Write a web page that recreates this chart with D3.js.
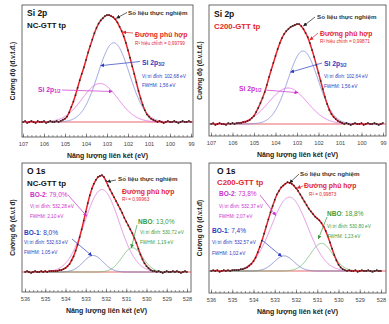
<!DOCTYPE html>
<html>
<head>
<meta charset="utf-8">
<script src="https://cdn.jsdelivr.net/npm/d3@7"></script>
<style>
  body { margin: 0; background: #fff; }
  svg { display: block; font-family: "Liberation Sans", Arial, "DejaVu Sans", sans-serif; }
</style>
</head>
<body>
<svg id="chart" width="389" height="324"></svg>
<script>
// ---- data ----
const siTicks = [107, 106, 105, 104, 103, 102, 101, 100, 99];
const oTicks = [536, 535, 534, 533, 532, 531, 530, 529, 528];

// measured intensity (normalised), one value every 0.1 eV from the high-energy end
const siNcIntensity = [
  0.00, 0.01, -0.01, 0.00, 0.01, 0.00, -0.01, 0.01, 0.00, 0.00, 0.01, -0.01, 0.00, 0.01, 0.00, 0.00, 0.01, 0.00,
  0.01, 0.02, 0.03, 0.05, 0.09, 0.14, 0.19, 0.25, 0.32, 0.39,
  0.45, 0.51, 0.58, 0.65, 0.71, 0.77, 0.83, 0.88, 0.92, 0.95,
  0.97, 0.99, 1.00, 1.00, 0.99, 0.98, 0.96, 0.93, 0.89, 0.85,
  0.80, 0.74, 0.67, 0.60, 0.52, 0.45, 0.37, 0.29, 0.22, 0.16,
  0.11, 0.07, 0.05, 0.03, 0.02, 0.01,
  0.00, 0.01, 0.00, -0.01, 0.00, 0.01, 0.00, 0.00, 0.01, 0.00, -0.01, 0.00, 0.01, 0.00, 0.00, 0.01, 0.00
];
const siC200Intensity = [
  0.00, 0.01, -0.01, 0.00, 0.01, 0.00, 0.00, -0.01, 0.01, 0.00, 0.01, 0.00, 0.01, 0.01,
  0.01, 0.02, 0.02, 0.03, 0.04, 0.06, 0.08, 0.12, 0.16, 0.21,
  0.26, 0.32, 0.39, 0.47, 0.54, 0.61, 0.68, 0.75, 0.81, 0.86,
  0.90, 0.93, 0.95, 0.97, 0.98, 0.99, 1.00, 1.00, 0.98, 0.95,
  0.91, 0.87, 0.81, 0.74, 0.67, 0.59, 0.51, 0.43, 0.35, 0.27,
  0.20, 0.14, 0.10, 0.07, 0.05, 0.03, 0.02, 0.01,
  0.00, 0.01, 0.00, -0.01, 0.00, 0.01, 0.00, 0.00, 0.01, -0.01, 0.00, 0.01, 0.00, 0.00, 0.01, 0.00, -0.01, 0.00, 0.01
];
const oNcIntensity = [
  0.00, 0.01, 0.00, -0.01, 0.00, 0.01, 0.00, 0.00, 0.01, 0.00, 0.01, 0.00, 0.01, 0.01, 0.01,
  0.01, 0.01, 0.02, 0.02, 0.03, 0.04, 0.06, 0.08, 0.12, 0.16,
  0.22, 0.28, 0.36, 0.44, 0.53, 0.62, 0.71, 0.79, 0.86, 0.91,
  0.95, 0.98, 0.99, 1.00, 0.98, 0.94, 0.89, 0.85, 0.81, 0.77,
  0.73, 0.69, 0.65, 0.61, 0.56, 0.52, 0.48, 0.44, 0.40, 0.35,
  0.30, 0.24, 0.18, 0.13, 0.09, 0.06, 0.04, 0.02, 0.01,
  0.01, 0.00, 0.01, 0.00, -0.01, 0.00, 0.01, 0.00, 0.00, 0.01, 0.00, 0.01, 0.00, -0.01, 0.00, 0.01, 0.00
];
const oC200Intensity = [
  0.00, 0.01, 0.00, 0.01, -0.01, 0.00, 0.01, 0.00, 0.01, 0.00, 0.01, 0.01, 0.01,
  0.01, 0.02, 0.02, 0.03, 0.04, 0.06, 0.08, 0.11, 0.15, 0.21,
  0.27, 0.34, 0.42, 0.50, 0.58, 0.66, 0.73, 0.80, 0.86, 0.90,
  0.94, 0.96, 0.98, 1.00, 0.99, 0.98, 0.96, 0.93, 0.90, 0.86,
  0.82, 0.78, 0.74, 0.70, 0.67, 0.64, 0.61, 0.59, 0.57, 0.54,
  0.50, 0.45, 0.39, 0.32, 0.25, 0.18, 0.12, 0.07, 0.04, 0.02, 0.01,
  0.00, 0.01, 0.00, 0.00, 0.01, -0.01, 0.00, 0.01, 0.00, 0.00, 0.01, 0.00, -0.01, 0.00, 0.01, 0.00, 0.00
];

// fitted components: peak position (eV), height, visible FWHM (eV)
const siNcCenters = [102.68, 103.33];
const siNcHeights = [0.74, 0.36];
const siNcFwhm = [1.77, 2.0];
const siC200Centers = [102.72, 103.42];
const siC200Heights = [0.73, 0.36];
const siC200Fwhm = [1.65, 2.1];
const oNcCenters = [532.2, 532.63, 530.7];
const oNcHeights = [0.85, 0.17, 0.25];
const oNcFwhm = [2.0, 1.15, 1.2];
const oC200Centers = [532.31, 532.56, 530.8];
const oC200Heights = [0.83, 0.17, 0.31];
const oC200Fwhm = [2.0, 1.1, 1.25];

// ---- styles ----
const RED = "#e3262d";
const DARK = "#222";
const BLUE_LINE = "#7d88d4", BLUE_TXT = "#2b3cc2";
const MAG_LINE = "#e066e0", MAG_TXT = "#cc2fcc";
const GRN_LINE = "#6fb86f", GRN_TXT = "#3d9b3d";
const SMALL = 4.7;

const svg = d3.select("#chart");
const defs = svg.append("defs");

function arrowMarker(id, color) {
  defs.append("marker")
    .attr("id", id)
    .attr("viewBox", "0 0 10 10")
    .attr("refX", 9).attr("refY", 5)
    .attr("markerUnits", "userSpaceOnUse")
    .attr("markerWidth", 4).attr("markerHeight", 4)
    .attr("orient", "auto")
    .append("path")
    .attr("d", "M0,0L10,5L0,10z")
    .attr("fill", color);
}
arrowMarker("a-dark", DARK);
arrowMarker("a-red", RED);
arrowMarker("a-blue", BLUE_TXT);
arrowMarker("a-mag", MAG_TXT);
arrowMarker("a-grn", GRN_TXT);

const gauss = (e, c, h, w) => h * Math.exp(-4 * Math.LN2 * (e - c) * (e - c) / (w * w));

function addText(g, x, y, parts) {
  const t = g.append("text").attr("x", x).attr("y", y);
  parts.forEach(([str, size, weight, color, sub]) => {
    const s = t.append("tspan")
      .text(str)
      .attr("font-size", size)
      .attr("font-weight", weight)
      .attr("fill", color);
    if (sub) s.attr("dy", 1.8);
  });
}

function drawPanel(p) {
  const x = d3.scaleLinear().domain([p.ticks[0], p.ticks[p.ticks.length - 1]]).range(p.xr);
  const y = d3.scaleLinear().domain([0, 1]).range([p.base, p.top]);
  const g = svg.append("g");

  const points = p.intensity.map((v, i) => ({ e: (p.ticks[0] * 10 - i) / 10, v }));
  const comp = (k, e) => gauss(e, p.centers[k], p.heights[k], p.fwhm[k]);

  // ticks (inside the frame, bottom only)
  const minor = d3.range(p.ticks[p.ticks.length - 1] * 5, p.ticks[0] * 5 + 1).map(d => d / 5);
  g.append("g")
    .attr("transform", `translate(0,${p.y1})`)
    .call(d3.axisBottom(x).tickValues(minor).tickSize(-2).tickFormat(""))
    .call(a => a.select(".domain").remove())
    .call(a => a.selectAll("line").attr("stroke", "#555").attr("stroke-width", 0.6));
  g.append("g")
    .attr("transform", `translate(0,${p.y1})`)
    .call(d3.axisBottom(x).tickValues(p.ticks).tickSize(-3.5).tickPadding(5).tickFormat(d3.format("d")))
    .call(a => a.select(".domain").remove())
    .call(a => a.selectAll("line").attr("stroke", "#555").attr("stroke-width", 0.6))
    .call(a => a.selectAll("text").attr("font-size", 5.6).attr("fill", "#444")
      .attr("font-family", "'Liberation Sans', Arial, sans-serif"));

  // frame
  g.append("rect")
    .attr("x", p.x0).attr("y", p.y0)
    .attr("width", p.x1 - p.x0).attr("height", p.y1 - p.y0)
    .attr("fill", "none").attr("stroke", "#444").attr("stroke-width", 0.8);

  // baseline
  g.append("line")
    .attr("x1", p.x0).attr("x2", p.x1)
    .attr("y1", y(0)).attr("y2", y(0))
    .attr("stroke", RED).attr("stroke-width", 0.7);

  // components
  const fine = d3.range(0, 801).map(i => (p.ticks[0] * 100 - i) / 100);
  p.compColors.forEach((color, k) => {
    g.append("path")
      .datum(fine)
      .attr("fill", "none")
      .attr("stroke", color)
      .attr("stroke-width", 0.8)
      .attr("d", d3.line().x(e => x(e)).y(e => y(comp(k, e))));
  });

  // fitted envelope through the measured points
  g.append("path")
    .datum(points)
    .attr("fill", "none")
    .attr("stroke", RED)
    .attr("stroke-width", 1.5)
    .attr("d", d3.line().x(d => x(d.e)).y(d => y(d.v)).curve(d3.curveBasis));

  // measured points
  g.selectAll(".pt")
    .data(points)
    .join("rect")
    .attr("class", "pt")
    .attr("x", d => x(d.e) - 0.75)
    .attr("y", d => y(d.v) - 0.75)
    .attr("width", 1.5).attr("height", 1.5)
    .attr("fill", DARK);

  // axis titles
  g.append("text")
    .attr("x", (p.x0 + p.x1) / 2).attr("y", p.y1 + 21)
    .attr("text-anchor", "middle")
    .attr("font-size", 7).attr("font-weight", "bold").attr("fill", "#222")
    .text("Năng lượng liên kết (eV)");
  g.append("text")
    .attr("transform", `translate(${p.x0 - 7},${(p.y0 + p.y1) / 2}) rotate(-90)`)
    .attr("text-anchor", "middle")
    .attr("font-size", 6.5).attr("font-weight", "bold").attr("fill", "#222")
    .text(p.yTitle);

  // labels
  p.texts.forEach(t => addText(g, t[0], t[1], t[2]));

  // arrows: from a text anchor to a point on a curve
  p.arrows.forEach(a => {
    const v = a.comp !== undefined ? comp(a.comp, a.e) : a.v;
    g.append("line")
      .attr("x1", a.from[0]).attr("y1", a.from[1])
      .attr("x2", x(a.e)).attr("y2", y(v))
      .attr("stroke", a.color).attr("stroke-width", 0.7)
      .attr("marker-end", `url(#${a.marker})`);
  });
}

const B = "bold", N = "normal";

drawPanel({
  x0: 22, x1: 193, y0: 5, y1: 137, xr: [23, 191], base: 122, top: 15,
  ticks: siTicks, intensity: siNcIntensity,
  centers: siNcCenters, heights: siNcHeights, fwhm: siNcFwhm,
  compColors: [BLUE_LINE, MAG_LINE],
  yTitle: "Cường độ (đ.v.t.đ.)",
  texts: [
    [27, 16, [["Si 2p", 8.5, B, "#111"]]],
    [27, 28, [["NC-GTT tp", 7.8, B, "#111"]]],
    [128, 15, [["Số liệu thực nghiệm", 6.2, B, "#333"]]],
    [135, 36.5, [["Đường phủ hợp", 6.8, B, RED]]],
    [135, 44.8, [["R² hiệu chỉnh = 0,99799", SMALL, N, RED]]],
    [142, 64.5, [["Si 2p", 6.8, B, BLUE_TXT], ["3/2", 4.6, B, BLUE_TXT, true]]],
    [142, 77.6, [["Vị trí đỉnh: 102,68 eV", SMALL, N, BLUE_TXT]]],
    [142, 86.6, [["FWHM: 1,56 eV", SMALL, N, BLUE_TXT]]],
    [38, 91.5, [["Si 2p", 6.8, B, MAG_TXT], ["1/2", 4.6, B, MAG_TXT, true]]]
  ],
  arrows: [
    { from: [127, 12.5], e: 102.55, v: 0.97, color: DARK, marker: "a-dark" },
    { from: [133, 33], e: 102.25, v: 0.84, color: RED, marker: "a-red" },
    { from: [140, 61.5], e: 103.3, comp: 0, color: BLUE_TXT, marker: "a-blue" },
    { from: [62, 90], e: 102.75, comp: 1, color: MAG_TXT, marker: "a-mag" }
  ]
});

drawPanel({
  x0: 209, x1: 386, y0: 5, y1: 136, xr: [211, 383], base: 124, top: 24,
  ticks: siTicks, intensity: siC200Intensity,
  centers: siC200Centers, heights: siC200Heights, fwhm: siC200Fwhm,
  compColors: [BLUE_LINE, MAG_LINE],
  yTitle: "Cường độ (đ.v.t.đ.)",
  texts: [
    [214, 17, [["Si 2p", 8.5, B, "#111"]]],
    [214, 29, [["C200-GTT tp", 7.8, B, RED]]],
    [317, 19, [["Số liệu thực nghiệm", 6.2, B, "#333"]]],
    [320, 35.5, [["Đường phủ hợp", 6.8, B, RED]]],
    [320, 43, [["R² hiệu chỉnh = 0,99871", SMALL, N, RED]]],
    [324, 65.5, [["Si 2p", 6.8, B, BLUE_TXT], ["3/2", 4.6, B, BLUE_TXT, true]]],
    [324, 77.6, [["Vị trí đỉnh: 102,64 eV", SMALL, N, BLUE_TXT]]],
    [324, 87.6, [["FWHM: 1,56 eV", SMALL, N, BLUE_TXT]]],
    [239, 90.5, [["Si 2p", 6.8, B, MAG_TXT], ["1/2", 4.6, B, MAG_TXT, true]]]
  ],
  arrows: [
    { from: [315, 17], e: 102.7, v: 0.98, color: DARK, marker: "a-dark" },
    { from: [318, 33], e: 102.4, v: 0.84, color: RED, marker: "a-red" },
    { from: [322, 63], e: 103.3, comp: 0, color: BLUE_TXT, marker: "a-blue" },
    { from: [265, 90], e: 102.95, comp: 1, color: MAG_TXT, marker: "a-mag" }
  ]
});

drawPanel({
  x0: 22, x1: 191, y0: 163, y1: 292, xr: [25, 187], base: 272, top: 175,
  ticks: oTicks, intensity: oNcIntensity,
  centers: oNcCenters, heights: oNcHeights, fwhm: oNcFwhm,
  compColors: ["#d97ad9", "#6f7bc6", GRN_LINE],
  yTitle: "Cường độ (đ.v.t đ)",
  texts: [
    [27, 174, [["O 1s", 8.5, B, "#111"]]],
    [27, 186, [["NC-GTT tp", 7.8, B, "#111"]]],
    [118, 181, [["Số liệu thực nghiệm", 6.2, B, "#333"]]],
    [122, 193.5, [["Đường phủ hợp", 6.8, B, RED]]],
    [122, 200.5, [["R² = 0,99963", SMALL, N, RED]]],
    [30, 197, [["BO-2", 6.5, B, MAG_TXT], [": 79,0%", 6.5, N, MAG_TXT]]],
    [30, 207.5, [["Vị trí đỉnh: 532,28 eV", SMALL, N, MAG_TXT]]],
    [30, 217.5, [["FWHM: 2,10 eV", SMALL, N, MAG_TXT]]],
    [24, 234.5, [["BO-1", 6.5, B, BLUE_TXT], [": 8,0%", 6.5, N, BLUE_TXT]]],
    [24, 244, [["Vị trí đỉnh: 532,63 eV", SMALL, N, BLUE_TXT]]],
    [24, 254, [["FWHM: 1,05 eV", SMALL, N, BLUE_TXT]]],
    [138, 224, [["NBO", 6.5, B, GRN_TXT], [": 13,0%", 6.5, N, GRN_TXT]]],
    [140, 233.5, [["Vị trí đỉnh: 530,72 eV", SMALL, N, GRN_TXT]]],
    [140, 243.5, [["FWHM: 1,19 eV", SMALL, N, GRN_TXT]]]
  ],
  arrows: [
    { from: [116, 180], e: 531.95, v: 0.93, color: DARK, marker: "a-dark" },
    { from: [68, 195], e: 532.95, comp: 0, color: MAG_TXT, marker: "a-mag" },
    { from: [72, 239], e: 532.7, comp: 1, color: BLUE_TXT, marker: "a-blue" },
    { from: [137, 225], e: 530.75, comp: 2, color: GRN_TXT, marker: "a-grn" }
  ]
});

drawPanel({
  x0: 209, x1: 386, y0: 163, y1: 293, xr: [211, 381], base: 271, top: 182,
  ticks: oTicks, intensity: oC200Intensity,
  centers: oC200Centers, heights: oC200Heights, fwhm: oC200Fwhm,
  compColors: ["#d97ad9", "#6f7bc6", GRN_LINE],
  yTitle: "Cường độ (đ.v.t.đ)",
  texts: [
    [217, 174, [["O 1s", 8.5, B, "#111"]]],
    [217, 185, [["C200-GTT tp", 7.8, B, RED]]],
    [300, 175.5, [["Số liệu thực nghiệm", 6.2, B, "#333"]]],
    [304, 188, [["Đường phủ hợp", 6.8, B, RED]]],
    [309, 195.5, [["R² = 0,99873", SMALL, N, RED]]],
    [219, 196, [["BO-2", 6.5, B, MAG_TXT], [": 73,8%", 6.5, N, MAG_TXT]]],
    [219, 207.5, [["Vị trí đỉnh: 532,37 eV", SMALL, N, MAG_TXT]]],
    [219, 218, [["FWHM: 2,07 eV", SMALL, N, MAG_TXT]]],
    [212, 233, [["BO-1", 6.5, B, BLUE_TXT], [": 7,4%", 6.5, N, BLUE_TXT]]],
    [212, 244, [["Vị trí đỉnh: 532,57 eV", SMALL, N, BLUE_TXT]]],
    [212, 255, [["FWHM: 1,02 eV", SMALL, N, BLUE_TXT]]],
    [327, 216, [["NBO", 6.5, B, GRN_TXT], [": 18,8%", 6.5, N, GRN_TXT]]],
    [327, 228, [["Vị trí đỉnh: 530,80 eV", SMALL, N, GRN_TXT]]],
    [327, 238, [["FWHM: 1,23 eV", SMALL, N, GRN_TXT]]]
  ],
  arrows: [
    { from: [299, 174], e: 532.3, v: 0.99, color: DARK, marker: "a-dark" },
    { from: [303, 186], e: 531.95, v: 0.93, color: RED, marker: "a-red" },
    { from: [260, 195], e: 532.95, comp: 0, color: MAG_TXT, marker: "a-mag" },
    { from: [262, 240], e: 532.68, comp: 1, color: BLUE_TXT, marker: "a-blue" },
    { from: [327, 217], e: 530.95, v: 0.36, color: GRN_TXT, marker: "a-grn" }
  ]
});
</script>
</body>
</html>
